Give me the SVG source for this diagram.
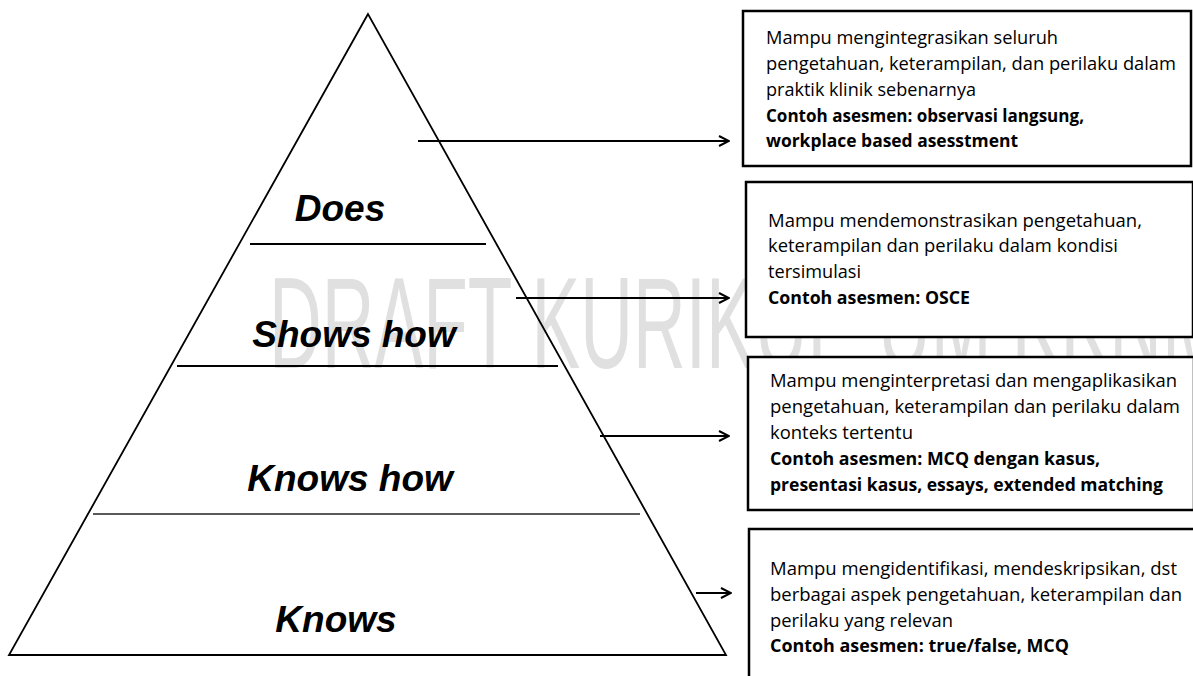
<svg xmlns="http://www.w3.org/2000/svg" width="1193" height="676" viewBox="0 0 1193 676">
<style>
.lvl{font-family:"Liberation Sans",Arial,sans-serif;font-weight:bold;font-style:italic;font-size:37px;fill:#000;text-anchor:middle}
.box{fill:#fff;stroke:#000;stroke-width:2.5}
.t{font-family:"Open Sans","Noto Sans",sans-serif;font-size:18px;fill:#000}
.b{font-weight:bold}
.wm{font-family:"Liberation Sans",Arial,sans-serif;font-size:130px;fill:#e0e0e0}
.ln{stroke:#000;stroke-width:2;fill:none}
</style>
<defs>
<marker id="ah" viewBox="0 0 12 12" refX="11" refY="6" markerWidth="12" markerHeight="12" markerUnits="userSpaceOnUse" orient="auto">
<path d="M1,1 L11,6 L1,11" fill="none" stroke="#000" stroke-width="2"/>
</marker>
</defs>
<rect width="1193" height="676" fill="#fff"/>
<g id="watermark" transform="translate(269,368) scale(0.562,1)">
<text class="wm" x="0" y="0">DRAFT KURIKUL<tspan dx="53">UM KKNM</tspan></text>
</g>
<g id="pyramid">
<polygon points="368,14 9,655 726,655" fill="none" stroke="#000" stroke-width="1.8"/>
<line class="ln" x1="250" y1="244" x2="486" y2="244"/>
<line class="ln" x1="177" y1="366" x2="558" y2="366"/>
<line x1="93" y1="514" x2="640" y2="514" stroke="#222" stroke-width="1.6"/>
</g>
<g id="level-does"><text class="lvl" x="340" y="221">Does</text></g>
<g id="level-shows"><text class="lvl" x="354" y="347">Shows how</text></g>
<g id="level-knowshow"><text class="lvl" x="350" y="491">Knows how</text></g>
<g id="level-knows"><text class="lvl" x="336" y="632">Knows</text></g>
<g id="connectors">
<line class="ln" x1="418" y1="141" x2="729" y2="141" marker-end="url(#ah)"/>
<line class="ln" x1="516" y1="298" x2="729" y2="298" marker-end="url(#ah)"/>
<line class="ln" x1="600" y1="436" x2="729" y2="436" marker-end="url(#ah)"/>
<line class="ln" x1="696" y1="593" x2="731" y2="593" marker-end="url(#ah)"/>
</g>
<g id="box-does">
<rect class="box" x="743" y="11" width="448" height="155"/>
<text class="t" x="766" y="44" textLength="292" lengthAdjust="spacingAndGlyphs">Mampu mengintegrasikan seluruh</text>
<text class="t" x="766" y="70" textLength="410" lengthAdjust="spacingAndGlyphs">pengetahuan, keterampilan, dan perilaku dalam</text>
<text class="t" x="766" y="96" textLength="210" lengthAdjust="spacingAndGlyphs">praktik klinik sebenarnya</text>
<text class="t b" x="766" y="122" textLength="318" lengthAdjust="spacingAndGlyphs">Contoh asesmen: observasi langsung,</text>
<text class="t b" x="766" y="147" textLength="252" lengthAdjust="spacingAndGlyphs">workplace based asesstment</text>
</g>
<g id="box-shows">
<rect class="box" x="746" y="182" width="447" height="155"/>
<text class="t" x="768" y="227" textLength="374" lengthAdjust="spacingAndGlyphs">Mampu mendemonstrasikan pengetahuan,</text>
<text class="t" x="768" y="252" textLength="350" lengthAdjust="spacingAndGlyphs">keterampilan dan perilaku dalam kondisi</text>
<text class="t" x="768" y="278" textLength="93" lengthAdjust="spacingAndGlyphs">tersimulasi</text>
<text class="t b" x="768" y="304" textLength="202" lengthAdjust="spacingAndGlyphs">Contoh asesmen: OSCE</text>
</g>
<g id="box-knowshow">
<rect class="box" x="748" y="357" width="446" height="153"/>
<text class="t" x="770" y="387" textLength="407" lengthAdjust="spacingAndGlyphs">Mampu menginterpretasi dan mengaplikasikan</text>
<text class="t" x="770" y="413" textLength="410" lengthAdjust="spacingAndGlyphs">pengetahuan, keterampilan dan perilaku dalam</text>
<text class="t" x="770" y="439" textLength="143" lengthAdjust="spacingAndGlyphs">konteks tertentu</text>
<text class="t b" x="770" y="465" textLength="330" lengthAdjust="spacingAndGlyphs">Contoh asesmen: MCQ dengan kasus,</text>
<text class="t b" x="770" y="491" textLength="393" lengthAdjust="spacingAndGlyphs">presentasi kasus, essays, extended matching</text>
</g>
<g id="box-knows">
<rect class="box" x="749" y="529" width="446" height="160"/>
<text class="t" x="770" y="575" textLength="407" lengthAdjust="spacingAndGlyphs">Mampu mengidentifikasi, mendeskripsikan, dst</text>
<text class="t" x="770" y="601" textLength="412" lengthAdjust="spacingAndGlyphs">berbagai aspek pengetahuan, keterampilan dan</text>
<text class="t" x="770" y="627" textLength="183" lengthAdjust="spacingAndGlyphs">perilaku yang relevan</text>
<text class="t b" x="770" y="652" textLength="299" lengthAdjust="spacingAndGlyphs">Contoh asesmen: true/false, MCQ</text>
</g>
</svg>
